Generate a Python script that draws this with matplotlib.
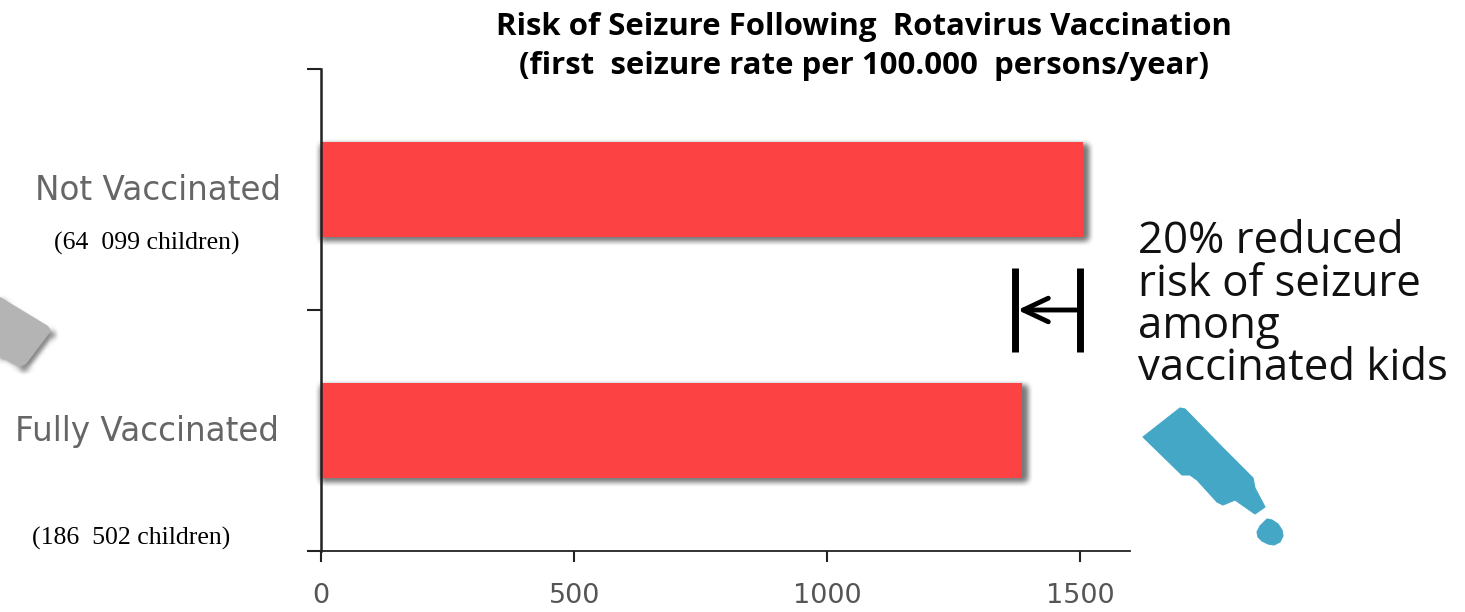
import numpy as np
import matplotlib
matplotlib.use('Agg')
import matplotlib.pyplot as plt
from matplotlib.patches import Polygon

groups = ['Fully Vaccinated', 'Not Vaccinated']
rates = [1385, 1505]
cohorts = ['(186  502 children)', '(64  099 children)']
xticks = [0, 500, 1000, 1500]
title_lines = ['Risk of Seizure Following  Rotavirus Vaccination',
               '(first  seizure rate per 100.000  persons/year)']
note_lines = ['20% reduced', 'risk of seizure', 'among', 'vaccinated kids']

W, H = 1465, 612
RED = '#fd4244'
BLUE = '#45a7c6'


def fx(px):
    return px / W


def fy(py):
    return 1 - py / H


def blur(size):
    # box blur run twice over the rendered layer, used for the soft shadows
    def flt(img, dpi):
        pad = size * 2
        out = np.pad(img, ((pad, pad), (pad, pad), (0, 0)))
        kernel = np.ones(size) / size
        for _ in range(2):
            for axis in (0, 1):
                out = np.apply_along_axis(np.convolve, axis, out, kernel, mode='same')
        return out, -pad, -pad
    return flt


fig = plt.figure(figsize=(W / 100, H / 100), dpi=100)
ax = fig.add_axes([fx(321), fy(551), (1130 - 321) / W, (551 - 69) / H])

shadows = ax.barh([-0.012, 0.988], [v + 10 for v in rates], height=0.395, color='#777777', zorder=1)
for s in shadows:
    s.set_agg_filter(blur(7))
ax.barh([0, 1], rates, height=0.395, color=RED, zorder=2)

ax.set_xlim(0, 1598)
ax.set_ylim(-0.5, 1.5)
ax.set_xticks(xticks)
ax.set_yticks([-0.5, 0.5, 1.5])
ax.set_yticklabels([])
ax.tick_params(axis='x', length=8, width=1.5, color='#222222', labelsize=19.5,
               labelcolor='#555555', pad=15)
ax.tick_params(axis='y', length=10, width=1.5, color='#222222')
ax.spines['top'].set_visible(False)
ax.spines['right'].set_visible(False)
ax.spines['left'].set_linewidth(1.8)
ax.spines['bottom'].set_linewidth(1.3)
ax.spines['left'].set_color('#222222')
ax.spines['bottom'].set_color('#222222')

# bracket showing the gap between the two rates
ax.plot([1500, 1500], [0.326, 0.674], color='black', lw=5, solid_capstyle='butt', zorder=3)
ax.plot([1371, 1371], [0.326, 0.674], color='black', lw=5, solid_capstyle='butt', zorder=3)
ax.annotate('', xy=(1376, 0.5), xytext=(1500, 0.5),
            arrowprops=dict(arrowstyle='->,head_length=1.8,head_width=0.85', lw=3.5, color='black',
                            shrinkA=0, shrinkB=0), zorder=3)

for i, line in enumerate(title_lines):
    fig.text(fx(864), fy(27 + 39 * i), line, family='Open Sans', weight='bold', fontsize=22.4,
             ha='center', va='center', color='black')

fig.text(fx(281), fy(200), groups[1], family='DejaVu Sans', fontsize=23.5, ha='right', va='baseline', color='#666666')
fig.text(fx(279), fy(441), groups[0], family='DejaVu Sans', fontsize=23.5, ha='right', va='baseline', color='#666666')
fig.text(fx(147), fy(250), cohorts[1], family='Liberation Serif', fontsize=18.5, ha='center', va='baseline', color='black')
fig.text(fx(131), fy(545), cohorts[0], family='Liberation Serif', fontsize=18.5, ha='center', va='baseline', color='black')

for i, line in enumerate(note_lines):
    fig.text(fx(1138), fy(253 + 42.5 * i), line, family='Open Sans', fontsize=31.5, ha='left', va='baseline', color='#111111')

# overlay in pixel coordinates for the decorative shapes
deco = fig.add_axes([0, 0, 1, 1], zorder=-1)
deco.set_xlim(0, W)
deco.set_ylim(H, 0)
deco.axis('off')

# dropper bottle and drop
bottle = [(1143, 437), (1180, 408), (1185, 409), (1222, 447), (1253, 478), (1255, 488), (1265, 507),
          (1255, 514), (1235, 500), (1223, 505), (1217, 502), (1197, 480), (1190, 475), (1182, 475)]
deco.add_patch(Polygon(bottle, closed=True, fc=BLUE, ec=BLUE, lw=0.8, joinstyle='round'))
drop = [(1267, 519), (1272, 520), (1278, 524), (1282, 530), (1283, 536), (1280, 542), (1274, 545),
        (1268, 544), (1262, 541), (1258, 537), (1257, 532), (1260, 526)]
deco.add_patch(Polygon(drop, closed=True, fc=BLUE, ec=BLUE, lw=0.8, joinstyle='round'))

# grey card clipped by the left edge, with a soft edge shadow
card = [(-8, 292), (48, 326), (51, 331), (26, 364), (20, 367), (-8, 352)]
shade = Polygon([(x + 3, y + 3) for x, y in card], closed=True, fc='#888888', lw=0)
shade.set_agg_filter(blur(6))
deco.add_patch(shade)
deco.add_patch(Polygon(card, closed=True, fc='#b4b4b4', lw=0))

fig.savefig('out.png', dpi=100)
